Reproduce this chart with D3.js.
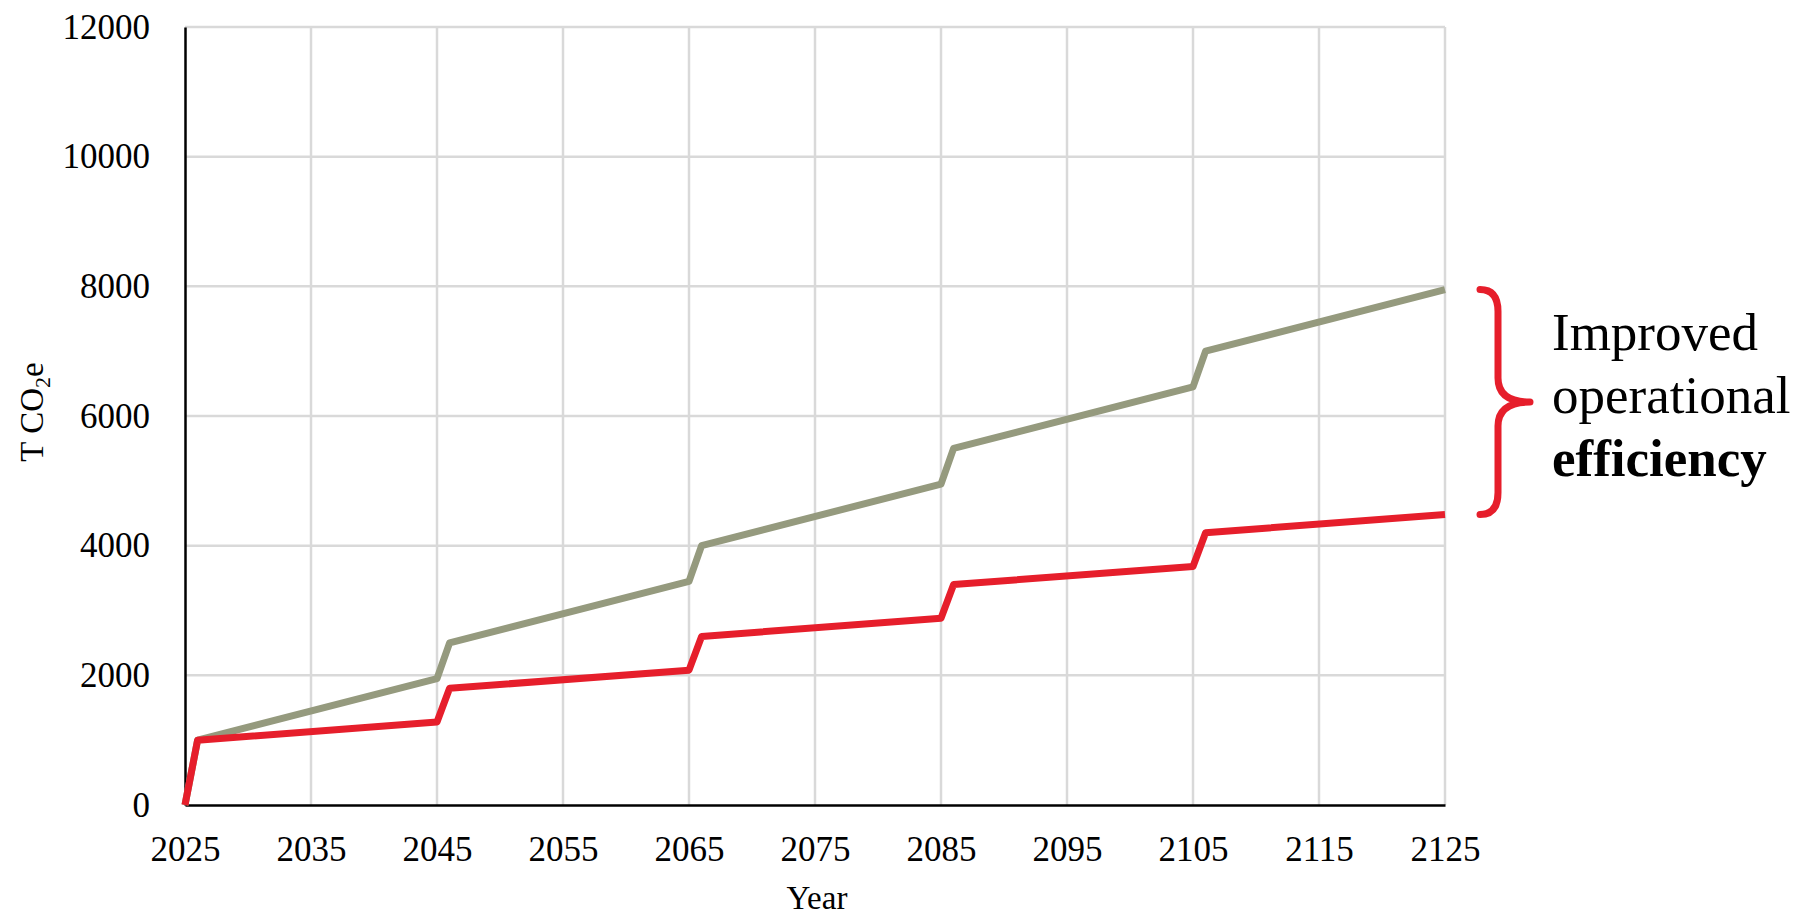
<!DOCTYPE html>
<html>
<head>
<meta charset="utf-8">
<script src="https://cdn.jsdelivr.net/npm/d3@7"></script>
<style>
	body { margin: 0; background: #fff; }
	text { font-family: "Liberation Serif", "Times New Roman", serif; fill: #000; }
</style>
</head>
<body>
<svg id="chart"></svg>
<script>
// breakpoints (lines are straight in between)
var baseYears   = [2025, 2026, 2045, 2046, 2065, 2066, 2085, 2086, 2105, 2106, 2125];
var baseValues  = [0, 1000, 1950, 2500, 3450, 4000, 4950, 5500, 6450, 7000, 7950];
var improvedYears  = [2025, 2026, 2045, 2046, 2065, 2066, 2085, 2086, 2105, 2106, 2125];
var improvedValues = [0, 1000, 1280, 1800, 2080, 2600, 2880, 3400, 3680, 4200, 4480];

var xTicks = [2025, 2035, 2045, 2055, 2065, 2075, 2085, 2095, 2105, 2115, 2125];
var yTicks = [0, 2000, 4000, 6000, 8000, 10000, 12000];
var noteLines = ["Improved", "operational", "efficiency"];

var colors = {
	"base" : "#959a7e",
	"improved" : "#e61e2b",
	"grid" : "#d9d9d9"
};

var w = 1798, h = 915;
var svg = d3.select("#chart")
	.attr("width", w)
	.attr("height", h);

var x = d3.scaleLinear().domain([2025, 2125]).range([185, 1445]);
var y = d3.scaleLinear().domain([0, 12000]).range([805, 27]);

// gridlines
svg.append("g")
	.selectAll("line")
	.data(yTicks.slice(1))
	.enter().append("line")
	.attr("x1", x(2025)).attr("x2", x(2125))
	.attr("y1", function (d) { return y(d); })
	.attr("y2", function (d) { return y(d); })
	.attr("stroke", colors.grid)
	.attr("stroke-width", 2.5);

svg.append("g")
	.selectAll("line")
	.data(xTicks.slice(1))
	.enter().append("line")
	.attr("x1", function (d) { return x(d); })
	.attr("x2", function (d) { return x(d); })
	.attr("y1", y(12000)).attr("y2", y(0))
	.attr("stroke", colors.grid)
	.attr("stroke-width", 2.5);

// axes
var yAxis = d3.axisLeft(y).tickValues(yTicks).tickSize(0).tickPadding(35).tickFormat(d3.format("d"));
var gy = svg.append("g")
	.attr("transform", "translate(" + x(2025) + ",0)")
	.call(yAxis);
gy.attr("font-family", null);
gy.select(".domain").attr("stroke", "#000").attr("stroke-width", 2.5);
gy.selectAll("text")
	.attr("font-size", "35px");

var xAxis = d3.axisBottom(x).tickValues(xTicks).tickSize(0).tickPadding(31).tickFormat(d3.format("d"));
var gx = svg.append("g")
	.attr("transform", "translate(0," + y(0) + ")")
	.call(xAxis);
gx.attr("font-family", null);
gx.select(".domain").attr("stroke", "#000").attr("stroke-width", 2.5);
gx.selectAll("text")
	.attr("font-size", "35px");

// axis titles
svg.append("text")
	.attr("x", 817)
	.attr("y", 909)
	.attr("text-anchor", "middle")
	.attr("font-size", "33px")
	.text("Year");

var yTitle = svg.append("text")
	.attr("transform", "translate(43,412) rotate(-90)")
	.attr("text-anchor", "middle")
	.attr("font-size", "33px");
yTitle.append("tspan").text("T CO");
yTitle.append("tspan").attr("font-size", "22px").attr("dy", 7).text("2");
yTitle.append("tspan").attr("dy", -7).text("e");

// lines
var line = d3.line()
	.x(function (d) { return x(d[0]); })
	.y(function (d) { return y(d[1]); });

function drawSeries(years, values, clr) {
	svg.append("path")
		.datum(d3.zip(years, values))
		.attr("d", line)
		.attr("fill", "none")
		.attr("stroke", clr)
		.attr("stroke-width", 7)
		.attr("stroke-linejoin", "round");
}
drawSeries(baseYears, baseValues, colors.base);
drawSeries(improvedYears, improvedValues, colors.improved);

// curly brace spanning the gap between the two end values
var yTop = y(baseValues[baseValues.length - 1]);
var yBot = y(improvedValues[improvedValues.length - 1]);
var yMid = (yTop + yBot) / 2;
var bx0 = x(2125) + 35, bx1 = bx0 + 18, bx2 = bx0 + 50;
var brace = d3.path();
brace.moveTo(bx0, yTop);
brace.quadraticCurveTo(bx1, yTop, bx1, yTop + 22);
brace.lineTo(bx1, yMid - 24);
brace.quadraticCurveTo(bx1, yMid, bx2, yMid);
brace.quadraticCurveTo(bx1, yMid, bx1, yMid + 24);
brace.lineTo(bx1, yBot - 22);
brace.quadraticCurveTo(bx1, yBot, bx0, yBot);
svg.append("path")
	.attr("d", brace.toString())
	.attr("fill", "none")
	.attr("stroke", colors.improved)
	.attr("stroke-width", 7)
	.attr("stroke-linecap", "round")
	.attr("stroke-linejoin", "round");

svg.append("g")
	.selectAll("text")
	.data(noteLines)
	.enter().append("text")
	.attr("x", 1552)
	.attr("y", function (d, i) { return 350 + i * 63; })
	.attr("font-size", "53px")
	.attr("font-weight", function (d, i) { return i == 2 ? "bold" : "normal"; })
	.text(function (d) { return d; });
</script>
</body>
</html>
